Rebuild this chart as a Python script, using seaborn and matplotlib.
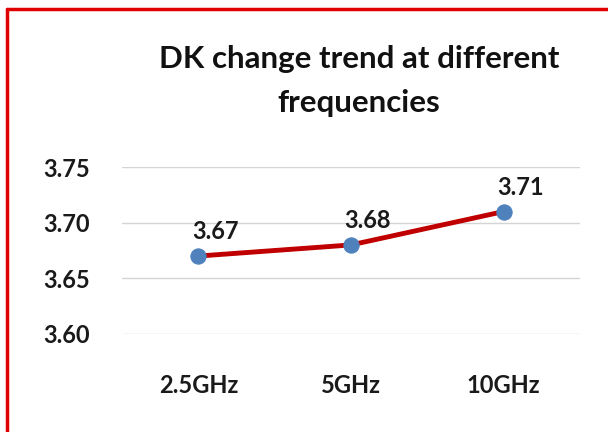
import matplotlib
matplotlib.use('Agg')
import matplotlib.pyplot as plt
from matplotlib.lines import Line2D
import seaborn as sns
import pandas as pd

freqs = ['2.5GHz', '5GHz', '10GHz']
dk = [3.67, 3.68, 3.71]
yticks = [3.60, 3.65, 3.70, 3.75]
title_lines = ['DK change trend at different', 'frequencies']

sns.set_theme(style='white')
plt.rcParams['font.family'] = ['Lato', 'DejaVu Sans']

df = pd.DataFrame({'freq': freqs, 'dk': dk})

fig = plt.figure(figsize=(6.08, 4.32), dpi=100)
ax = fig.add_axes([0.2007, 0.2269, 0.7533, 0.3865])

sns.lineplot(data=df, x='freq', y='dk', ax=ax, sort=False, color='#C00000', lw=3.5,
             marker='o', markersize=11, markerfacecolor='#4F81BD', markeredgecolor='#4F81BD')

for i, v in enumerate(dk):
    ax.annotate(f'{v:.2f}', (i, v), xytext=(12, 12), textcoords='offset points',
                ha='center', va='baseline', fontsize=17, fontweight='bold', color='#1a1a1a')

ax.set_xlim(-0.5, 2.5)
ax.set_ylim(3.60, 3.75)
ax.set_yticks(yticks)
ax.set_yticklabels([f'{t:.2f}' for t in yticks])
ax.yaxis.grid(True, color='#D4D4D4', lw=1)
ax.xaxis.grid(False)
ax.set_xlabel('')
ax.set_ylabel('')
for s in ax.spines.values():
    s.set_visible(False)
ax.tick_params(axis='both', length=0, labelsize=17, colors='#1a1a1a')
ax.tick_params(axis='x', pad=29)
ax.tick_params(axis='y', pad=23)
for lab in ax.get_xticklabels() + ax.get_yticklabels():
    lab.set_fontweight('bold')

# two-line title
for line, base in zip(title_lines, [68, 112]):
    fig.text(359 / 608, 1 - base / 432, line, ha='center', va='baseline', fontsize=22.5,
             fontweight='bold', color='#111111')

# red frame on top and left edges
fig.add_artist(Line2D([7 / 608, 1], [1 - 9 / 432, 1 - 9 / 432], transform=fig.transFigure, color='#E00000', lw=2.5))
fig.add_artist(Line2D([7 / 608, 7 / 608], [0, 1 - 9 / 432], transform=fig.transFigure, color='#E00000', lw=2.5))

fig.savefig('out.png', dpi=100, facecolor='white')
